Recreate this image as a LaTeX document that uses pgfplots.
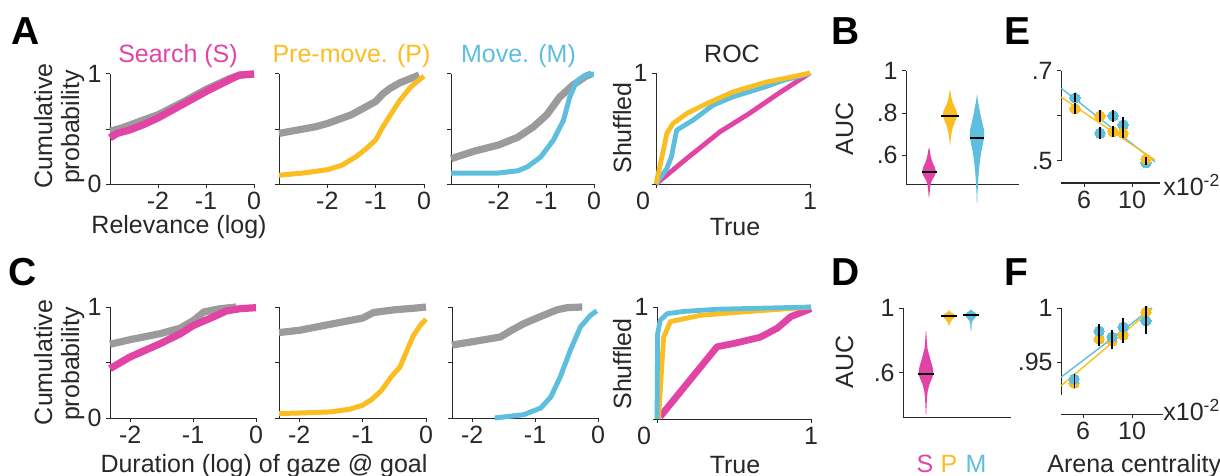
\documentclass[border=0pt]{standalone}
\usepackage{fontspec}
\setmainfont{Liberation Sans}
\usepackage{pgfplots}
\pgfplotsset{compat=1.18}
\definecolor{pk}{RGB}{225,68,165}
\definecolor{yl}{RGB}{250,190,35}
\definecolor{bl}{RGB}{94,190,222}
\definecolor{gr}{RGB}{155,155,155}
\definecolor{ax}{RGB}{40,40,40}
\newcommand\fs{\fontsize{12.5}{13}\selectfont}
\newcommand\fl{\fontsize{19.5}{20}\selectfont\bfseries}
\pgfplotsset{
 base/.style={scale only axis, anchor=south west, axis lines=left,
   axis line style={-, line width=0.5pt, ax},
   tick style={line width=0.5pt, ax}, tick align=outside, major tick length=2pt,
   clip=false, clip marker paths=true, tick label style={font=\fs, text=ax, inner sep=2pt},
   /pgf/number format/assume math mode=true},
 cdfA/.style={base, xmin=-3, xmax=0, ymin=0, ymax=1, xtick={-2,-1,0}, ytick={0,0.5,1}, yticklabels={,,}, height=55pt},
 cdfC/.style={base, xmin=-2.32, xmax=0, ymin=0, ymax=1, xtick={-2,-1,0}, ytick={0,0.5,1}, yticklabels={,,}, height=55.5pt},
 roc/.style={base, xmin=0, xmax=1, ymin=0, ymax=1, xtick={0,1}, ytick={0,1}, yticklabels={,1},
   xticklabels={\makebox[0pt][r]{0\hspace{3pt}},1}, width=77pt},
 gline/.style={gr, line width=3.6pt, line join=round},
 cline/.style={#1, line width=2.5pt, line join=round},
 fitl/.style={#1, line width=0.7pt},
 pts/.style={#1, only marks, mark=*, mark size=2.6pt, mark options={fill=#1, draw=#1, line width=0pt}},
 ebar/.style={black, line width=0.6pt, mark=none, unbounded coords=jump},
}
\begin{document}
\begin{tikzpicture}
\useasboundingbox (0,0) rectangle (610pt,-238pt);
% ---------------- Row A ----------------
\begin{axis}[cdfA, at={(55pt,-92pt)}, width=72pt, yticklabels={0,,1}]
\addplot[gline] coordinates {(-3,0.48)(-2.75,0.51)(-2.5,0.55)(-2.25,0.59)(-2,0.63)(-1.75,0.685)(-1.5,0.74)(-1.25,0.80)(-1,0.86)(-0.75,0.91)(-0.5,0.96)(-0.3,0.99)(0,1.0)};
\addplot[pk, line width=3.6pt, line join=round] coordinates {(-3,0.42)(-2.85,0.46)(-2.6,0.49)(-2.3,0.54)(-2,0.60)(-1.75,0.66)(-1.5,0.72)(-1.25,0.78)(-1,0.84)(-0.75,0.895)(-0.5,0.95)(-0.3,0.99)(0,1.0)};
\end{axis}
\begin{axis}[cdfA, at={(139.5pt,-92pt)}, width=72.5pt]
\addplot[gline] coordinates {(-3,0.46)(-2.75,0.48)(-2.5,0.50)(-2.25,0.52)(-2,0.55)(-1.75,0.59)(-1.5,0.63)(-1.25,0.69)(-1,0.75)(-0.85,0.82)(-0.7,0.87)(-0.5,0.92)(-0.3,0.955)(-0.1,0.99)};
\addplot[cline=yl] coordinates {(-3,0.08)(-2.5,0.10)(-2,0.13)(-1.7,0.17)(-1.4,0.25)(-1.2,0.32)(-1,0.40)(-0.85,0.52)(-0.67,0.645)(-0.5,0.76)(-0.3,0.87)(-0.15,0.93)(0,0.98)};
\end{axis}
\begin{axis}[cdfA, at={(225.5pt,-92pt)}, width=71.5pt]
\addplot[gline] coordinates {(-3,0.23)(-2.5,0.30)(-2,0.355)(-1.6,0.425)(-1.27,0.52)(-0.99,0.63)(-0.72,0.79)(-0.44,0.90)(-0.17,0.98)(-0.05,1.0)};
\addplot[cline=bl] coordinates {(-3,0.1)(-2,0.1)(-1.6,0.12)(-1.4,0.155)(-1.12,0.245)(-0.85,0.40)(-0.64,0.58)(-0.51,0.79)(-0.37,0.93)(-0.17,0.99)(0,1)};
\end{axis}
\begin{axis}[roc, at={(328pt,-92pt)}, height=55.5pt]
\addplot[pk, line width=2.4pt] coordinates {(0,0)(0.2,0.23)(0.415,0.47)(0.6,0.63)(0.8,0.82)(1,1)};
\addplot[bl, line width=2.4pt, line join=round] coordinates {(0,0)(0.07,0.14)(0.10,0.245)(0.134,0.485)(0.24,0.575)(0.37,0.71)(0.5,0.785)(0.72,0.88)(0.83,0.935)(1,0.995)};
\addplot[yl, line width=2.4pt, line join=round] coordinates {(0,0)(0.048,0.305)(0.07,0.455)(0.11,0.545)(0.2,0.635)(0.33,0.725)(0.5,0.83)(0.72,0.92)(0.85,0.955)(1,1)};
\end{axis}
% B
\begin{axis}[base, at={(453pt,-92pt)}, width=56.5pt, height=56.5pt, xmin=0, xmax=113, ymin=0.462, ymax=1,
  xtick=\empty, ytick={0.6,0.8,1}, yticklabels={.6,.8,1}]
\addplot[fill=pk, draw=none] coordinates {(23.3,0.40)(23.8,0.43)(24.5,0.46)(26,0.48)(28.5,0.50)(30,0.52)(29,0.54)(27,0.56)(25.5,0.58)(24.5,0.60)(23.8,0.62)(23.2,0.635)(22.8,0.635)(22.2,0.62)(21.5,0.60)(20.5,0.58)(19,0.56)(17,0.54)(16,0.52)(17.5,0.50)(20,0.48)(21.5,0.46)(22.2,0.43)(22.7,0.40)} -- cycle;
\addplot[fill=yl, draw=none] coordinates {(44.2,0.648)(44.8,0.68)(45.8,0.71)(47.5,0.74)(50,0.77)(51.2,0.79)(50.5,0.81)(48.5,0.83)(46.8,0.85)(45.6,0.87)(44.8,0.89)(44.2,0.91)(43.8,0.91)(43.2,0.89)(42.4,0.87)(41.2,0.85)(39.5,0.83)(37.5,0.81)(36.8,0.79)(38,0.77)(40.5,0.74)(42.2,0.71)(43.2,0.68)(43.8,0.648)} -- cycle;
\addplot[fill=bl, draw=none] coordinates {(71.2,0.371)(71.5,0.42)(72.2,0.48)(73,0.53)(74.2,0.58)(75.5,0.62)(77.2,0.66)(78.3,0.69)(78,0.72)(76.5,0.75)(75,0.78)(73.8,0.81)(72.6,0.84)(71.8,0.86)(71.2,0.886)(70.8,0.886)(70.2,0.86)(69.4,0.84)(68.2,0.81)(67,0.78)(65.5,0.75)(64,0.72)(63.7,0.69)(64.8,0.66)(66.5,0.62)(67.8,0.58)(69,0.53)(69.8,0.48)(70.5,0.42)(70.8,0.371)} -- cycle;
\addplot[black, line width=0.7pt] coordinates {(15.5,0.519)(30.5,0.519)};
\addplot[black, line width=0.7pt] coordinates {(35,0.786)(53,0.786)};
\addplot[black, line width=0.7pt] coordinates {(64,0.681)(78,0.681)};
\end{axis}
% E
\begin{axis}[base, at={(530.5pt,-91.5pt)}, width=49.5pt, height=56pt, xmin=4.08, xmax=12.33, ymin=0.451, ymax=0.7,
  xtick={6,10}, ytick={0.5,0.6,0.7}, yticklabels={.5,,.7}, y axis line style={draw=none}]
\draw[ax, line width=0.5pt] (axis cs:4.08,0.5) -- (axis cs:4.08,0.7);
\addplot[fitl=bl] coordinates {(4.08,0.662)(11.92,0.498)};
\addplot[fitl=yl] coordinates {(4.08,0.642)(11.92,0.502)};
\addplot[pts=bl] coordinates {(5.25,0.64)(7.33,0.562)(8.42,0.6)(9.25,0.58)(11.17,0.496)};
\addplot[pts=yl] coordinates {(5.25,0.616)(7.33,0.6)(8.42,0.565)(9.25,0.562)(11.17,0.504)};
\addplot[ebar] coordinates {(5.25,0.63)(5.25,0.65)(5.25,nan)(7.33,0.548)(7.33,0.576)(7.33,nan)(8.42,0.587)(8.42,0.613)(8.42,nan)(9.25,0.563)(9.25,0.597)(9.25,nan)(11.17,0.492)(11.17,0.500)};
\addplot[ebar] coordinates {(5.25,0.604)(5.25,0.628)(5.25,nan)(7.33,0.587)(7.33,0.613)(7.33,nan)(8.42,0.553)(8.42,0.577)(8.42,nan)(9.25,0.550)(9.25,0.574)(9.25,nan)(11.17,0.499)(11.17,0.509)};
\end{axis}
% ---------------- Row C ----------------
\begin{axis}[cdfC, at={(55pt,-209pt)}, width=73pt, yticklabels={0,,1}]
\addplot[gline] coordinates {(-2.32,0.664)(-2,0.706)(-1.52,0.76)(-1.2,0.81)(-0.99,0.88)(-0.83,0.955)(-0.57,0.985)(-0.31,1)};
\addplot[pk, line width=3.6pt, line join=round] coordinates {(-2.32,0.445)(-2,0.55)(-1.52,0.67)(-1.2,0.76)(-0.99,0.835)(-0.68,0.91)(-0.47,0.965)(-0.25,0.985)(0,0.994)};
\end{axis}
\begin{axis}[cdfC, at={(139.5pt,-209pt)}, width=73.5pt]
\addplot[gline] coordinates {(-2.32,0.77)(-2,0.79)(-1.46,0.85)(-1,0.9)(-0.83,0.95)(-0.5,0.975)(-0.17,0.99)(0,1.0)};
\addplot[cline=yl] coordinates {(-2.32,0.04)(-2,0.045)(-1.5,0.055)(-1.2,0.08)(-1,0.115)(-0.85,0.17)(-0.7,0.25)(-0.55,0.37)(-0.41,0.46)(-0.3,0.61)(-0.2,0.74)(-0.09,0.835)(0,0.89)};
\end{axis}
\begin{axis}[cdfC, at={(226pt,-209pt)}, width=73pt]
\addplot[gline] coordinates {(-2.32,0.657)(-2,0.687)(-1.55,0.73)(-1.39,0.785)(-1.18,0.85)(-0.91,0.915)(-0.65,0.975)(-0.49,0.994)(-0.25,1.0)};
\addplot[cline=bl] coordinates {(-1.64,0)(-1.18,0.03)(-0.91,0.09)(-0.75,0.19)(-0.6,0.37)(-0.44,0.61)(-0.28,0.82)(-0.12,0.925)(-0.02,0.965)};
\end{axis}
\begin{axis}[roc, at={(328.5pt,-209.5pt)}, height=56pt]
\addplot[pk, line width=3.4pt, line join=round] coordinates {(0.02,0.02)(0.39,0.645)(0.5,0.675)(0.67,0.73)(0.78,0.81)(0.87,0.915)(1,0.985)};
\addplot[yl, line width=2.4pt, line join=round] coordinates {(0.01,0)(0.043,0.73)(0.087,0.87)(0.28,0.925)(0.5,0.95)(1,1)};
\addplot[bl, line width=2.4pt, line join=round] coordinates {(0,0)(0.004,0.76)(0.02,0.88)(0.065,0.94)(0.17,0.96)(0.39,0.98)(1,1)};
\end{axis}
% D
\begin{axis}[base, at={(451.5pt,-208.5pt)}, width=54pt, height=54.5pt, xmin=0, xmax=108, ymin=0.329, ymax=1,
  xtick=\empty, ytick={0.6,1}, yticklabels={.6,1}]
\addplot[fill=pk, draw=none] coordinates {(23.2,0.342)(23.6,0.40)(24,0.45)(24.8,0.49)(26.5,0.53)(28.5,0.56)(30.3,0.59)(30.2,0.62)(29,0.65)(27.5,0.68)(26.2,0.71)(24.5,0.75)(23.8,0.80)(23.2,0.858)(22.8,0.858)(22.2,0.80)(21.5,0.75)(19.8,0.71)(18.5,0.68)(17,0.65)(15.8,0.62)(15.7,0.59)(17.5,0.56)(19.5,0.53)(21.2,0.49)(22,0.45)(22.4,0.40)(22.8,0.342)} -- cycle;
\addplot[fill=yl, draw=none] coordinates {(46.2,0.89)(47.2,0.91)(49.5,0.93)(52,0.945)(52,0.955)(50,0.965)(47.5,0.975)(46.2,0.985)(45.8,0.985)(44.5,0.975)(42,0.965)(40,0.955)(40,0.945)(42.5,0.93)(44.8,0.91)(45.8,0.89)} -- cycle;
\addplot[fill=bl, draw=none] coordinates {(68.2,0.858)(68.6,0.88)(68.6,0.90)(69.5,0.92)(71.5,0.935)(73.5,0.95)(74,0.96)(72.5,0.97)(70,0.98)(68.2,0.99)(67.8,0.99)(66,0.98)(63.5,0.97)(62,0.96)(62.5,0.95)(64.5,0.935)(66.5,0.92)(67.4,0.90)(67.4,0.88)(67.8,0.858)} -- cycle;
\addplot[black, line width=0.7pt] coordinates {(15,0.594)(31,0.594)};
\addplot[black, line width=0.7pt] coordinates {(38,0.951)(54,0.951)};
\addplot[black, line width=0.7pt] coordinates {(60,0.957)(76,0.957)};
\end{axis}
% F
\begin{axis}[base, at={(530.5pt,-207pt)}, width=51pt, height=53pt, xmin=4.2, xmax=12.53, ymin=0.902, ymax=1,
  xtick={6,10}, ytick={0.95,1}, yticklabels={.95,1}, y axis line style={draw=none}]
\draw[ax, line width=0.5pt] (axis cs:4.2,0.92) -- (axis cs:4.2,1);
\addplot[fitl=bl] coordinates {(4.2,0.936)(11.63,1.0)};
\addplot[fitl=yl] coordinates {(4.2,0.928)(11.63,0.999)};
\addplot[pts=yl] coordinates {(5.27,0.9306)(7.31,0.9713)(8.37,0.9694)(9.27,0.975)(11.14,0.9963)};
\addplot[pts=bl] coordinates {(5.27,0.9343)(7.31,0.9787)(8.37,0.9731)(9.27,0.9824)(11.14,0.988)};
\addplot[ebar] coordinates {(5.27,0.9293)(5.27,0.9393)(5.27,nan)(7.31,0.9722)(7.31,0.9852)(7.31,nan)(8.37,0.9661)(8.37,0.9801)(8.37,nan)(9.27,0.9744)(9.27,0.9904)(9.27,nan)(11.14,0.976)(11.14,1.0)};
\addplot[ebar] coordinates {(5.27,0.9256)(5.27,0.9356)(5.27,nan)(7.31,0.9653)(7.31,0.9773)(7.31,nan)(8.37,0.9624)(8.37,0.9764)(8.37,nan)(9.27,0.968)(9.27,0.982)(9.27,nan)(11.14,0.9903)(11.14,1.002)};
\end{axis}
% ---------------- Text ----------------
\begin{scope}[every node/.style={inner sep=0pt, font=\fs, text=ax}]
\node[anchor=base, font=\fl, text=black] at (13pt,-22.5pt) {A};
\node[anchor=base, font=\fl, text=black] at (423pt,-22.5pt) {B};
\node[anchor=base, font=\fl, text=black] at (508.5pt,-22.5pt) {E};
\node[anchor=base, font=\fl, text=black] at (11.5pt,-142.5pt) {C};
\node[anchor=base, font=\fl, text=black] at (423pt,-142.5pt) {D};
\node[anchor=base, font=\fl, text=black] at (508pt,-142.5pt) {F};
\node[anchor=base, text=pk] at (89pt,-31.5pt) {Search (S)};
\node[anchor=base, text=yl] at (175.75pt,-31.5pt) {Pre-move. (P)};
\node[anchor=base, text=bl] at (259.25pt,-31.5pt) {Move. (M)};
\node[anchor=base] at (366pt,-31.5pt) {ROC};
\node[anchor=base, rotate=90] at (26pt,-63pt) {Cumulative};
\node[anchor=base, rotate=90] at (39.5pt,-63.5pt) {probability};
\node[anchor=base, rotate=90] at (26pt,-181.25pt) {Cumulative};
\node[anchor=base, rotate=90] at (39.5pt,-182pt) {probability};
\node[anchor=base] at (89.5pt,-116.5pt) {Relevance (log)};
\node[anchor=base] at (367.5pt,-117.5pt) {True};
\node[anchor=base] at (367.5pt,-236.5pt) {True};
\node[anchor=base, rotate=90] at (315.5pt,-64pt) {Shuffled};
\node[anchor=base, rotate=90] at (315.5pt,-182pt) {Shuffled};
\node[anchor=base, rotate=90] at (426.5pt,-64.5pt) {AUC};
\node[anchor=base, rotate=90] at (426.5pt,-181pt) {AUC};
\node[anchor=base] at (132pt,-236pt) {Duration (log) of gaze @ goal};
\node[anchor=base, text=pk] at (462.5pt,-236pt) {S};
\node[anchor=base, text=yl] at (474.5pt,-236pt) {P};
\node[anchor=base, text=bl] at (488pt,-236pt) {M};
\node[anchor=base west] at (523.5pt,-236pt) {Arena centrality};
\node[anchor=base west] at (581.5pt,-97.5pt) {x10\textsuperscript{-2}};
\node[anchor=base west] at (581.5pt,-210pt) {x10\textsuperscript{-2}};
\end{scope}
\end{tikzpicture}
\end{document}
